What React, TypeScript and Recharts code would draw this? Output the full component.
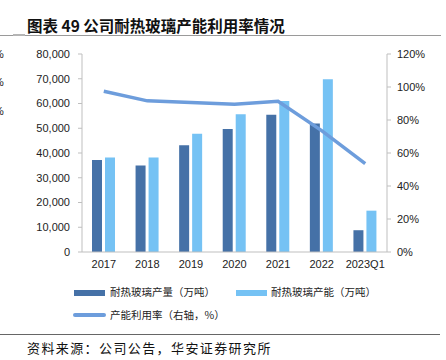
import { Bar, ComposedChart, Line, XAxis, YAxis } from "recharts";

const years = ["2017", "2018", "2019", "2020", "2021", "2022", "2023Q1"];
const output = [37200, 35000, 43100, 49700, 55500, 51900, 8800];
const capacity = [38200, 38200, 47800, 55700, 61000, 69800, 16700];
const utilization = [97.4, 91.6, 90.6, 89.6, 91.3, 73.6, 53.5];

const leftTicks = [0, 10000, 20000, 30000, 40000, 50000, 60000, 70000, 80000];
const rightTicks = [0, 20, 40, 60, 80, 100, 120];

const DARK = "#4571a7";
const LIGHT = "#75c2f4";
const LINE = "#6d9ddc";
const AXIS = "#bfbfbf";

const data = years.map((y, i) => ({
    year: y,
    output: output[i],
    capacity: capacity[i],
    rate: utilization[i],
}));

const cjk = '"Noto Sans CJK SC", sans-serif';
const tickFont = { fontSize: 11, fill: "#222", fontFamily: '"Liberation Sans", Arial, sans-serif' };

export default function App() {
    return (
        <div
            style={{
                position: "absolute",
                left: 0,
                top: 0,
                width: 446,
                height: 360,
                background: "#fff",
                overflow: "hidden",
            }}
        >
            <div
                style={{
                    position: "absolute",
                    left: 27,
                    top: 14,
                    fontFamily: cjk,
                    fontWeight: 700,
                    fontSize: 15.5,
                    lineHeight: "22px",
                    color: "#111",
                    whiteSpace: "nowrap",
                }}
            >
                图表 49 公司耐热玻璃产能利用率情况
            </div>
            <div style={{ position: "absolute", left: 0, top: 35, width: 441, height: 1, background: "#9a9a9a" }} />
            <div style={{ position: "absolute", left: 13, top: 34, width: 12, height: 2, background: "#b5b5b5" }} />

            {[55, 83, 112].map((t) => (
                <div
                    key={t}
                    style={{
                        position: "absolute",
                        left: -6,
                        top: t - 7,
                        fontSize: 11,
                        fontFamily: '"Liberation Sans", sans-serif',
                        color: "#222",
                    }}
                >
                    %
                </div>
            ))}

            <div style={{ position: "absolute", left: 0, top: 0 }}>
                <ComposedChart
                    width={446}
                    height={280}
                    data={data}
                    margin={{ top: 54, right: 0, bottom: 0, left: 0 }}
                    barSize={10}
                    barGap={3}
                >
                    <XAxis
                        dataKey="year"
                        tickLine={false}
                        tickSize={0}
                        tickMargin={8}
                        height={28}
                        stroke={AXIS}
                        tick={tickFont}
                        interval={0}
                    />
                    <YAxis
                        yAxisId="left"
                        domain={[0, 80000]}
                        ticks={leftTicks}
                        width={82}
                        tickSize={4}
                        tickMargin={8}
                        stroke={AXIS}
                        tick={tickFont}
                        tickFormatter={(v: number) => v.toLocaleString("en-US")}
                        interval={0}
                    />
                    <YAxis
                        yAxisId="right"
                        orientation="right"
                        domain={[0, 120]}
                        ticks={rightTicks}
                        width={59}
                        tickSize={4}
                        tickMargin={6}
                        stroke={AXIS}
                        tick={tickFont}
                        tickFormatter={(v: number) => `${v}%`}
                        interval={0}
                    />
                    <Bar yAxisId="left" dataKey="output" fill={DARK} isAnimationActive={false} />
                    <Bar yAxisId="left" dataKey="capacity" fill={LIGHT} isAnimationActive={false} />
                    <Line
                        yAxisId="right"
                        dataKey="rate"
                        type="linear"
                        stroke={LINE}
                        strokeWidth={3.5}
                        dot={false}
                        isAnimationActive={false}
                    />
                </ComposedChart>
            </div>

            <div style={{ position: "absolute", left: 74, top: 290, width: 31, height: 6, background: DARK }} />
            <div style={{ position: "absolute", left: 110, top: 284, fontFamily: cjk, fontSize: 10.5, lineHeight: "16px", color: "#222", whiteSpace: "nowrap" }}>
                耐热玻璃产量（万吨）
            </div>
            <div style={{ position: "absolute", left: 236, top: 290, width: 31, height: 6, background: LIGHT }} />
            <div style={{ position: "absolute", left: 271, top: 284, fontFamily: cjk, fontSize: 10.5, lineHeight: "16px", color: "#222", whiteSpace: "nowrap" }}>
                耐热玻璃产能（万吨）
            </div>
            <div style={{ position: "absolute", left: 73, top: 313, width: 33, height: 4, borderRadius: 2, background: LINE }} />
            <div style={{ position: "absolute", left: 110, top: 307, fontFamily: cjk, fontSize: 10.5, lineHeight: "16px", color: "#222", whiteSpace: "nowrap" }}>
                产能利用率（右轴，%）
            </div>

            <div style={{ position: "absolute", left: 0, top: 334, width: 440, height: 1, background: "#666" }} />
            <div
                style={{
                    position: "absolute",
                    left: 27,
                    top: 339,
                    fontFamily: cjk,
                    fontSize: 13,
                    letterSpacing: 1.4,
                    lineHeight: "18px",
                    color: "#111",
                    whiteSpace: "nowrap",
                }}
            >
                资料来源：公司公告，华安证券研究所
            </div>
        </div>
    );
}
